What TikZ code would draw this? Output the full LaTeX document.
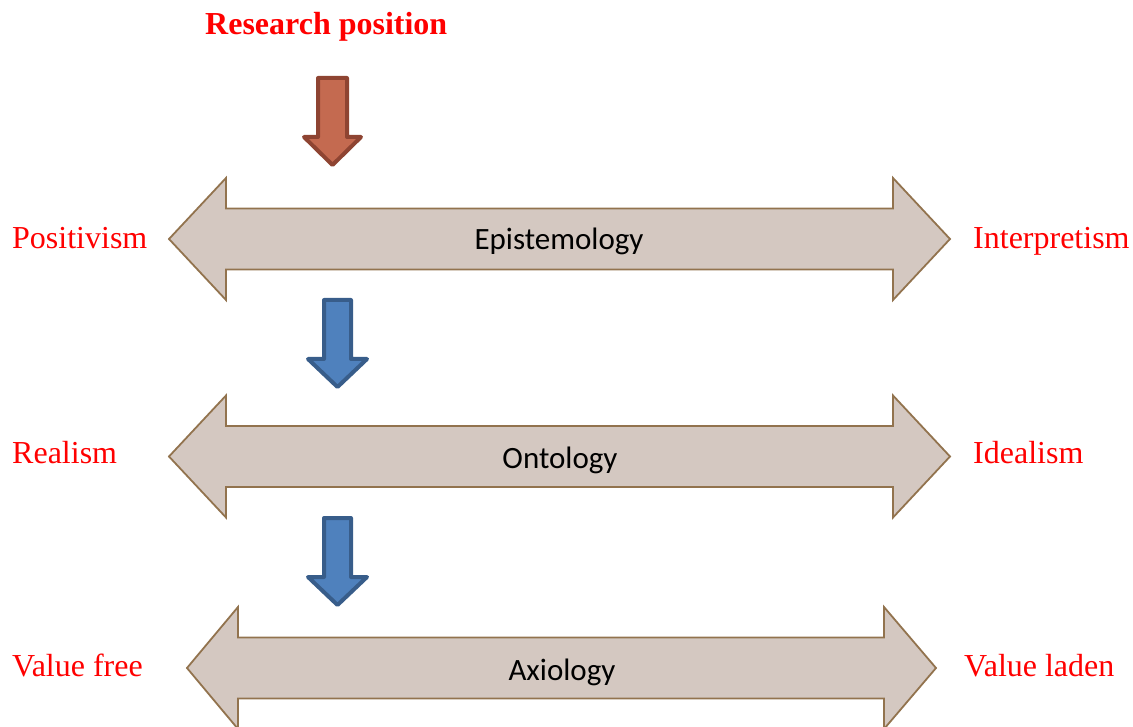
\documentclass[tikz,border=0pt]{standalone}
\usepackage{fontspec}
\setmainfont{Liberation Serif}
\newfontfamily\boxfont{Carlito}

\definecolor{bandfill}{RGB}{212,200,193}
\definecolor{banddraw}{RGB}{146,115,78}
\definecolor{rustfill}{RGB}{196,106,80}
\definecolor{rustdraw}{RGB}{142,68,50}
\definecolor{bluefill}{RGB}{79,129,189}
\definecolor{bluedraw}{RGB}{56,93,138}
\definecolor{labelred}{RGB}{255,0,0}

% double-headed band: centre y, left tip, left head base, right head base, right tip
\newcommand{\dualband}[5]{%
  \draw[band] (#2,#1) -- (#3,{#1-61}) -- (#3,{#1-30.5}) -- (#4,{#1-30.5})
    -- (#4,{#1-61}) -- (#5,#1) -- (#4,{#1+61}) -- (#4,{#1+30.5})
    -- (#3,{#1+30.5}) -- (#3,{#1+61}) -- cycle;}

% downward block arrow: shaft left, shaft right, top, head base, wing left, wing right, tip y
\newcommand{\downblock}[8]{%
  \draw[#8] (#1,#3) -- (#2,#3) -- (#2,#4) -- (#6,#4) -- ({(#5+#6)/2},#7)
    -- (#5,#4) -- (#1,#4) -- cycle;}

\begin{document}
\begin{tikzpicture}[x=1pt,y=-1pt,
  band/.style={fill=bandfill,draw=banddraw,line width=1.8pt,line join=miter},
  rustarrow/.style={fill=rustfill,draw=rustdraw,line width=4pt,line join=round},
  bluearrow/.style={fill=bluefill,draw=bluedraw,line width=4pt,line join=round},
  sidelabel/.style={anchor=base west,inner sep=0pt,text=labelred,
    font=\fontsize{32}{38}\selectfont},
  bandlabel/.style={anchor=base,inner sep=0pt,text=black,
    font=\boxfont\fontsize{31}{37}\selectfont}]
\clip (0,0) rectangle (1133,727);
\useasboundingbox (0,0) rectangle (1133,727);

% the three scales
\dualband{239}{169}{226}{893}{950}
\dualband{456.5}{169}{226}{893}{950}
\dualband{668}{187}{238}{884}{936}

% arrows between the levels
\downblock{318}{347}{78}{137}{304}{361}{165}{rustarrow}
\downblock{324}{351}{300}{359}{308}{367}{387}{bluearrow}
\downblock{324}{351}{518}{577}{308}{367}{605}{bluearrow}

% heading
\node[anchor=base west,inner sep=0pt,text=labelred,
  font=\bfseries\fontsize{32}{38}\selectfont] (head) at (205,35) {Research position};

% labels on the scales
\node[bandlabel] (epi) at (559,250) {Epistemology};
\node[bandlabel] (ont) at (560,468) {Ontology};
\node[bandlabel] (axi) at (562,680) {Axiology};

% end-point labels
\node[sidelabel] (pos) at (12,249) {Positivism};
\node[sidelabel] (int) at (973,249) {Interpretism};
\node[sidelabel] (rea) at (12,463) {Realism};
\node[sidelabel] (ide) at (973,463) {Idealism};
\node[sidelabel] (vfr) at (12,676) {Value free};
\node[sidelabel] (vla) at (964,676) {Value laden};
\end{tikzpicture}
\end{document}
